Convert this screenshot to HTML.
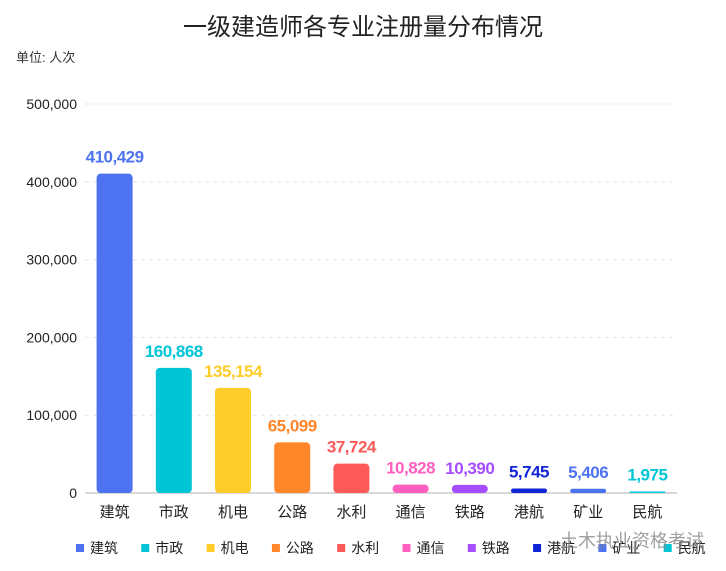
<!DOCTYPE html>
<html><head><meta charset="utf-8"><style>
body{margin:0;background:#fff;}
svg{display:block;font-family:"Liberation Sans","Noto Sans CJK SC",sans-serif;}
</style></head><body>
<svg id="c" width="726" height="571">
<text x="363" y="35" text-anchor="middle" font-size="24" fill="#222">一级建造师各专业注册量分布情况</text>
<text x="16" y="62" font-size="13" fill="#333">单位: 人次</text>
<g id="grid"></g><g id="bars"></g><g id="legend"></g>
<text x="560" y="547" font-size="18" fill="#888" opacity="0.8">土木执业资格考试</text>
</svg>
<script>
const categories=["建筑","市政","机电","公路","水利","通信","铁路","港航","矿业","民航"];
const values=[410429,160868,135154,65099,37724,10828,10390,5745,5406,1975];
const colors=["#4e73f0","#00c5d6","#ffcd29","#ff8629","#ff5a5a","#ff5fbe","#a64dff","#1025d6","#4e73f0","#00c5d6"];
const ticks=[0,100000,200000,300000,400000,500000];
const NS="http://www.w3.org/2000/svg";
const x0=85,x1=677,y0=493,yTop=104,yMax=500000;
const y=v=>y0-(y0-yTop)*v/yMax;
const band=(x1-x0)/categories.length;
const xc=i=>x0+band*(i+0.5);
function mk(t,a,p){const e=document.createElementNS(NS,t);for(const k in a)e.setAttribute(k,a[k]);p.appendChild(e);return e;}
const g=document.getElementById('grid'),b=document.getElementById('bars'),L=document.getElementById('legend');
ticks.forEach(t=>{
 if(t>0){const l=mk('line',{x1:x0,x2:x1,y1:y(t),y2:y(t),stroke:'#e6e6e6','stroke-dasharray':'4,4'},g);
 
 }
 const tx=mk('text',{x:77,y:y(t)+5,'text-anchor':'end','font-size':14,fill:'#222'},g);
 tx.textContent=t.toLocaleString('en-US');
 
 
});
const ax=mk('line',{x1:x0,x2:x1,y1:y0,y2:y0,stroke:'#ccc','stroke-width':1.5},g);


const bw=36;
categories.forEach((c,i)=>{
 const top=y(values[i]),h=Math.max(y0-top,1.5);
 const r=mk('rect',{x:xc(i)-bw/2,y:y0-h,width:bw,height:h,rx:Math.min(4,h/2),fill:colors[i]},b);
 
 
 const v=mk('text',{x:xc(i),y:y0-h-11,'text-anchor':'middle','font-size':17,'font-weight':'bold',fill:colors[i],'letter-spacing':'-0.5'},b);
 v.textContent=values[i].toLocaleString('en-US');
 
 
 const t=mk('text',{x:xc(i),y:517,'text-anchor':'middle','font-size':15,fill:'#222'},b);
 t.textContent=c;
 
 
 const lx=76+i*65.3;
 const lg=mk('g',{},L);
 
 
 mk('rect',{x:lx,y:544,width:8,height:8,fill:colors[i]},lg);
 const lt=mk('text',{x:lx+14,y:553,'font-size':14,fill:'#222'},lg);
 lt.textContent=c;
});
</script>
</body></html>
